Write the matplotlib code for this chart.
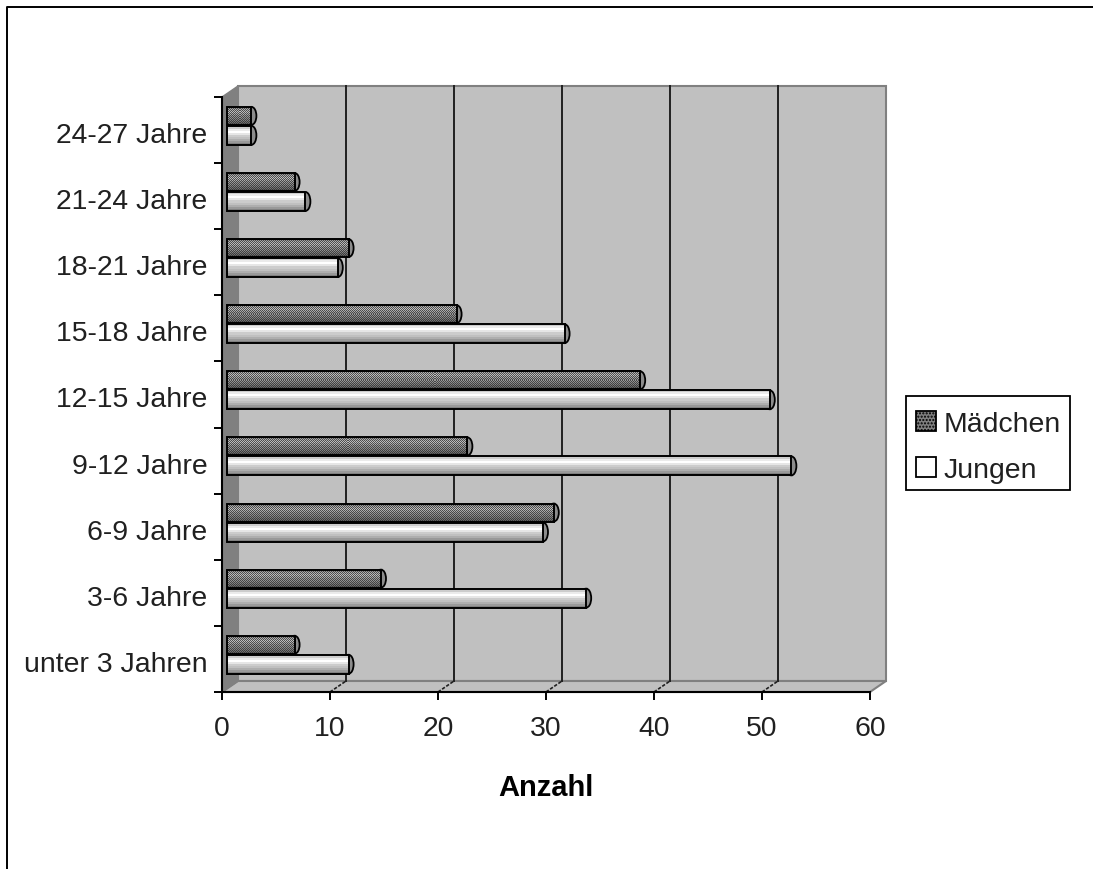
import numpy as np
import matplotlib
matplotlib.use('Agg')
import matplotlib.pyplot as plt
from matplotlib.lines import Line2D
from matplotlib.patches import Ellipse, Patch, Polygon, Rectangle

categories = ['unter 3 Jahren', '3-6 Jahre', '6-9 Jahre', '9-12 Jahre', '12-15 Jahre',
              '15-18 Jahre', '18-21 Jahre', '21-24 Jahre', '24-27 Jahre']
maedchen = [7, 15, 31, 23, 39, 22, 12, 7, 3]
jungen = [12, 34, 30, 53, 51, 32, 11, 8, 3]
x_ticks = [0, 10, 20, 30, 40, 50, 60]

W, H = 1093, 870
plt.rcParams['font.family'] = ['Liberation Sans', 'DejaVu Sans']

fig = plt.figure(figsize=(W / 100, H / 100), dpi=100)
ax = fig.add_axes([222 / W, (H - 693) / H, 648 / W, 595 / H])
ax.set_xlim(0, 60)
ax.set_ylim(0, 9)

# pixel sizes in data units
PX = 60 / 648
PY = 9 / 595
DX = 16 * PX
DY = 11 * PY

# outer frame of the picture, only top and left
fig.add_artist(Line2D([7 / W, 7 / W, 1], [0, (H - 7.5) / H, (H - 7.5) / H], color='black', lw=1.4))

# 3d walls
ax.add_patch(Polygon([(DX, DY), (60 + DX, DY), (60 + DX, 9 + DY), (DX, 9 + DY)],
                     fc='#c0c0c0', ec='#808080', lw=1.5, clip_on=False, zorder=1))
ax.add_patch(Polygon([(0, 0), (60, 0), (60 + DX, DY), (DX, DY)],
                     fc='#c0c0c0', ec='#808080', lw=1.5, clip_on=False, zorder=1))
ax.add_patch(Polygon([(0, 0), (DX, DY), (DX, 9 + DY), (0, 9)],
                     fc='#808080', ec='#808080', lw=1, clip_on=False, zorder=1.1))

for t in x_ticks[1:-1]:
    ax.plot([t + DX, t + DX], [DY, 9 + DY], color='#202020', lw=1.4, clip_on=False, zorder=2)
    ax.plot([t, t + DX], [0, DY], color='#202020', lw=1.2, ls=(0, (2, 1)), clip_on=False, zorder=2)

# bar geometry
BAR_START = 5 * PX
END_SHIFT = -3 * PX
y_m = np.arange(9) + 0.715
y_j = np.arange(9) + 0.42
h_m = 18 * PY
h_j = 19 * PY


def cyl_shades(n):
    # top light, bottom dark, like the old excel cylinder fill
    stops = np.array([0.8, 0.92, 1.0, 0.9, 0.8, 0.75, 0.68, 0.6, 0.5])
    return stops[(np.arange(n) * len(stops) / n).astype(int)]


def draw_series(values, ypos, height, dither, color, label):
    values = np.array(values, dtype=float)
    widths = values + END_SHIFT - BAR_START
    ax.barh(ypos, widths, height, left=BAR_START, color=color, zorder=3, label=label)
    for v, y, w in zip(values, ypos, widths):
        end = v + END_SHIFT
        ax.add_patch(Ellipse((end, y), 10 * PX, height, fc='#8c8c8c', ec='black', lw=1.3, zorder=3.5))
        rows = int(round(height / PY))
        cols = max(int(round(w / PX)), 1)
        shade = cyl_shades(rows)[:, None] * np.ones((rows, cols))
        if dither:
            ii, jj = np.indices((rows, cols))
            shade = np.where((ii + jj) % 2 == 0, shade * 0.75, 0.12 + shade * 0.2)
        ax.imshow(shade, cmap='gray', vmin=0, vmax=1, aspect='auto', interpolation='nearest',
                  extent=(BAR_START, end, y - height / 2, y + height / 2), zorder=4)
    ax.barh(ypos, widths, height, left=BAR_START, fill=False, edgecolor='black', lw=1.4, zorder=5)


draw_series(maedchen, y_m, h_m, True, '#808080', 'Mädchen')
draw_series(jungen, y_j, h_j, False, 'white', 'Jungen')
ax.set_xlim(0, 60)
ax.set_ylim(0, 9)

# axes
for s in ['top', 'right']:
    ax.spines[s].set_visible(False)
for s in ['left', 'bottom']:
    ax.spines[s].set_linewidth(1.5)
    ax.spines[s].set_zorder(6)
ax.set_xticks(x_ticks)
ax.set_yticks(np.arange(10))
ax.set_yticklabels([])
ax.set_yticks(np.arange(9) + 0.47, categories, minor=True)
ax.tick_params(axis='both', which='major', length=5.8, width=1.4, color='black', labelsize=20.4, labelcolor='#202020')
ax.tick_params(axis='x', pad=10.5)
ax.tick_params(axis='y', which='minor', length=0, pad=10.5, labelsize=20.4, labelcolor='#202020')
ax.set_xlabel('Anzahl', fontsize=21, fontweight='bold', labelpad=23.5, color='black')

# legend: box drawn apart since the rows sit a bit low in it
fig.add_artist(Rectangle((906 / W, (H - 491) / H), 164 / W, 94 / H, transform=fig.transFigure,
                         fc='white', ec='black', lw=1.3))
handles = [Patch(fc='#808080', ec='black', hatch='.....', lw=1.3, label='Mädchen'),
           Patch(fc='white', ec='black', lw=1.3, label='Jungen')]
leg = fig.legend(handles=handles, loc='center left', bbox_to_anchor=(906 / W, (H - 448) / H),
                 fontsize=20.4, frameon=False,
                 handlelength=0.7, handleheight=0.7, handletextpad=0.28, labelspacing=0.71,
                 borderpad=0.36, borderaxespad=0, labelcolor='#202020')
leg.set_zorder(10)

fig.savefig('out.png', dpi=100)
